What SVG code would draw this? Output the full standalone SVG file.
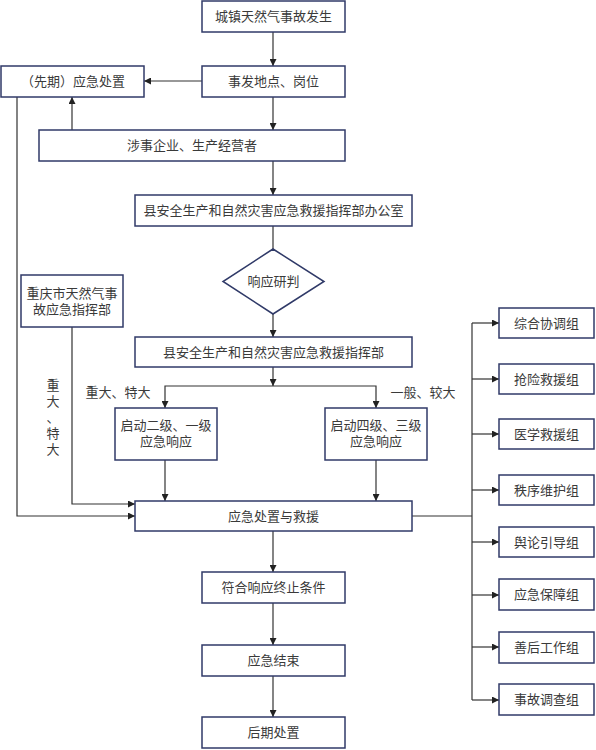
<svg xmlns="http://www.w3.org/2000/svg" width="596" height="750" viewBox="0 0 596 750">
<style>
.b{fill:#fff;stroke:#303a68;stroke-width:1.5}
.t{font-family:"Liberation Serif","Noto Sans CJK SC",serif;font-size:13px;fill:#3a3a3a;text-anchor:middle;dominant-baseline:central}
.c{fill:none;stroke:#333;stroke-width:1.2}
</style>
<defs>
<marker id="a" viewBox="0 0 10 10" refX="10" refY="5" markerWidth="7" markerHeight="7" markerUnits="userSpaceOnUse" orient="auto">
<path d="M0,0L10,5L0,10z" fill="#222"/>
</marker>
</defs>
<rect width="596" height="750" fill="#fff"/>
<g id="connectors">
<path class="c" d="M273,32V66" marker-end="url(#a)"/>
<path class="c" d="M202,81H144" marker-end="url(#a)"/>
<path class="c" d="M273,97V130" marker-end="url(#a)"/>
<path class="c" d="M72,130V97" marker-end="url(#a)"/>
<path class="c" d="M273,161V195" marker-end="url(#a)"/>
<path class="c" d="M273,226V249"/>
<path class="c" d="M273,314V337" marker-end="url(#a)"/>
<path class="c" d="M273,367V386" marker-end="url(#a)"/>
<path class="c" d="M273,386H165V408" marker-end="url(#a)"/>
<path class="c" d="M273,386H376V408" marker-end="url(#a)"/>
<path class="c" d="M165,460V501" marker-end="url(#a)"/>
<path class="c" d="M376,460V501" marker-end="url(#a)"/>
<path class="c" d="M72,327V504H135" marker-end="url(#a)"/>
<path class="c" d="M17,97V516H135" marker-end="url(#a)"/>
<path class="c" d="M412,516H472"/>
<path class="c" d="M472,323V700"/>
<path class="c" d="M472,323H499" marker-end="url(#a)"/>
<path class="c" d="M472,379H499" marker-end="url(#a)"/>
<path class="c" d="M472,434H499" marker-end="url(#a)"/>
<path class="c" d="M472,490H499" marker-end="url(#a)"/>
<path class="c" d="M472,542H499" marker-end="url(#a)"/>
<path class="c" d="M472,595H499" marker-end="url(#a)"/>
<path class="c" d="M472,647H499" marker-end="url(#a)"/>
<path class="c" d="M472,700H499" marker-end="url(#a)"/>
<path class="c" d="M273,531V572" marker-end="url(#a)"/>
<path class="c" d="M273,603V645" marker-end="url(#a)"/>
<path class="c" d="M273,676V717" marker-end="url(#a)"/>
</g>
<g id="labels">
<text class="t" x="118" y="392">重大、特大</text>
<text class="t" x="423" y="392">一般、较大</text>
<text class="t" x="53"><tspan x="53" y="385">重</tspan><tspan x="53" y="401">大</tspan><tspan x="53" y="417">、</tspan><tspan x="53" y="433">特</tspan><tspan x="53" y="449">大</tspan></text>
</g>
<g id="n1"><rect class="b" x="202" y="1" width="143" height="31"/><text class="t" x="273.5" y="16.5">城镇天然气事故发生</text></g>
<g id="n2"><rect class="b" x="202" y="66" width="143" height="31"/><text class="t" x="273.5" y="81.5">事发地点、岗位</text></g>
<g id="n3"><rect class="b" x="1" y="66" width="143" height="31"/><text class="t" x="73" y="81.5">（先期）应急处置</text></g>
<g id="n4"><rect class="b" x="39" y="130" width="306" height="31"/><text class="t" x="192" y="145.5">涉事企业、生产经营者</text></g>
<g id="n5"><rect class="b" x="135" y="195" width="277" height="31"/><text class="t" x="273.5" y="210.5">县安全生产和自然灾害应急救援指挥部办公室</text></g>
<g id="n6"><polygon class="b" points="273,249 324,281.5 273,314 223,281.5"/><text class="t" x="273.5" y="281.5">响应研判</text></g>
<g id="n7"><rect class="b" x="21" y="275" width="102" height="52"/><text class="t" x="72" y="293">重庆市天然气事</text><text class="t" x="72" y="309">故应急指挥部</text></g>
<g id="n8"><rect class="b" x="135" y="337" width="277" height="30"/><text class="t" x="273.5" y="352">县安全生产和自然灾害应急救援指挥部</text></g>
<g id="n9"><rect class="b" x="115" y="408" width="102" height="52"/><text class="t" x="166" y="425">启动二级、一级</text><text class="t" x="166" y="441">应急响应</text></g>
<g id="n10"><rect class="b" x="325" y="408" width="102" height="52"/><text class="t" x="376" y="425">启动四级、三级</text><text class="t" x="376" y="441">应急响应</text></g>
<g id="n11"><rect class="b" x="135" y="501" width="277" height="30"/><text class="t" x="273.5" y="516">应急处置与救援</text></g>
<g id="n12"><rect class="b" x="202" y="572" width="143" height="31"/><text class="t" x="273.5" y="587.5">符合响应终止条件</text></g>
<g id="n13"><rect class="b" x="202" y="645" width="143" height="31"/><text class="t" x="273.5" y="660.5">应急结束</text></g>
<g id="n14"><rect class="b" x="202" y="717" width="143" height="31"/><text class="t" x="273.5" y="732.5">后期处置</text></g>
<g id="g1"><rect class="b" x="499" y="308" width="95" height="30"/><text class="t" x="546.5" y="323">综合协调组</text></g>
<g id="g2"><rect class="b" x="499" y="364" width="95" height="30"/><text class="t" x="546.5" y="379">抢险救援组</text></g>
<g id="g3"><rect class="b" x="499" y="419" width="95" height="30"/><text class="t" x="546.5" y="434">医学救援组</text></g>
<g id="g4"><rect class="b" x="499" y="475" width="95" height="30"/><text class="t" x="546.5" y="490">秩序维护组</text></g>
<g id="g5"><rect class="b" x="499" y="527" width="95" height="30"/><text class="t" x="546.5" y="542">舆论引导组</text></g>
<g id="g6"><rect class="b" x="499" y="579" width="95" height="31"/><text class="t" x="546.5" y="594.5">应急保障组</text></g>
<g id="g7"><rect class="b" x="499" y="632" width="95" height="31"/><text class="t" x="546.5" y="647.5">善后工作组</text></g>
<g id="g8"><rect class="b" x="499" y="684" width="95" height="31"/><text class="t" x="546.5" y="699.5">事故调查组</text></g>
</svg>
